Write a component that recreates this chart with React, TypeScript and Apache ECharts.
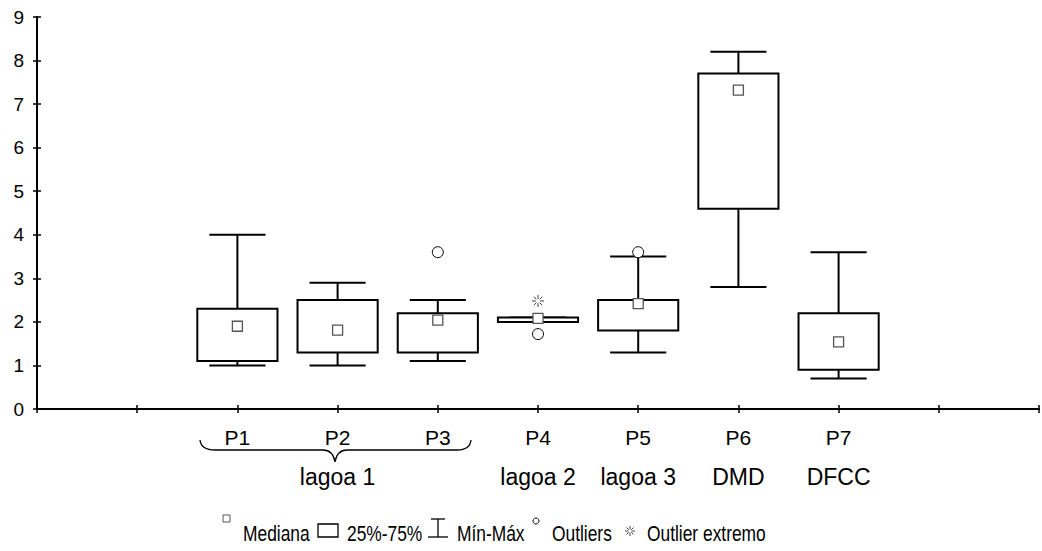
import React, { useEffect, useRef } from "react";
import * as echarts from "echarts";

// ---- data ----
const categories = ["P1", "P2", "P3", "P4", "P5", "P6", "P7"];
const groups = ["", "lagoa 1", "", "lagoa 2", "lagoa 3", "DMD", "DFCC"];
const positions = [2, 3, 4, 5, 6, 7, 8];
const mins = [1.0, 1.0, 1.1, 2.0, 1.3, 2.8, 0.7];
const q1s = [1.1, 1.3, 1.3, 2.0, 1.8, 4.6, 0.9];
const medians = [1.9, 1.81, 2.04, 2.08, 2.42, 7.32, 1.54];
const q3s = [2.3, 2.5, 2.2, 2.1, 2.5, 7.7, 2.2];
const maxs = [4.0, 2.9, 2.5, 2.1, 3.5, 8.2, 3.6];
const outlierCats = ["P3", "P4", "P5"];
const outlierVals = [3.6, 1.72, 3.6];
const extremeCats = ["P4"];
const extremeVals = [2.48];
const yTicks = [0, 1, 2, 3, 4, 5, 6, 7, 8, 9];
const legendLabels = ["Mediana", "25%-75%", "Mín-Máx", "Outliers", "Outlier extremo"];

const FONT = "'Liberation Sans', Arial, sans-serif";

const posOf = (c: string) => positions[categories.indexOf(c)];

const ASTERISK =
  "path://M0,6L4,6M8,6L12,6M6,0L6,4M6,8L6,12M1.8,1.8L4.3,4.3M7.7,7.7L10.2,10.2M10.2,1.8L7.7,4.3M4.3,7.7L1.8,10.2";

let registered = false;
function registerShapes() {
  if (registered) return;
  registered = true;
  echarts.graphic.registerShape(
    "brace",
    echarts.graphic.extendPath(
      "M200,440 Q201,450 215,450 L323,450 Q333,450 335,462 Q337,450 347,450 L457,450 Q470,450 471,440",
      {}
    )
  );
}

export default function App() {
  const ref = useRef<HTMLDivElement>(null);

  useEffect(() => {
    if (!ref.current) return;
    registerShapes();
    const chart = echarts.init(ref.current, null, { renderer: "svg" });

    const boxData = positions.map((p, i) => [p, mins[i], q1s[i], medians[i], q3s[i], maxs[i]]);

    const renderItem = (params: any, api: any) => {
      const x = api.value(0);
      const mn = api.value(1);
      const q1 = api.value(2);
      const q3 = api.value(4);
      const mx = api.value(5);
      const cx = api.coord([x, q1])[0];
      const yMin = api.coord([x, mn])[1];
      const yQ1 = api.coord([x, q1])[1];
      const yQ3 = api.coord([x, q3])[1];
      const yMax = api.coord([x, mx])[1];
      const hb = api.size([0.8, 0])[0] / 2;
      const hc = api.size([0.56, 0])[0] / 2;
      const ls = { stroke: "#000", lineWidth: 2, fill: "none" };
      return {
        type: "group",
        children: [
          { type: "line", shape: { x1: cx, y1: yMax, x2: cx, y2: yQ3 }, style: ls },
          { type: "line", shape: { x1: cx - hc, y1: yMax, x2: cx + hc, y2: yMax }, style: ls },
          { type: "line", shape: { x1: cx, y1: yQ1, x2: cx, y2: yMin }, style: ls },
          { type: "line", shape: { x1: cx - hc, y1: yMin, x2: cx + hc, y2: yMin }, style: ls },
          {
            type: "rect",
            shape: { x: cx - hb, y: yQ3, width: hb * 2, height: yQ1 - yQ3 },
            style: { stroke: "#000", lineWidth: 2, fill: "#fff" },
          },
        ],
      };
    };

    const axisLine = { show: true, lineStyle: { color: "#000", width: 2 } };
    const axisTick = { show: true, inside: true, length: 4, lineStyle: { color: "#000", width: 1.5 } };

    const txt = (x: number, s: string) => ({
      type: "text",
      x,
      y: 533,
      scaleX: 0.79,
      style: { text: s, fill: "#000", font: `22px ${FONT}`, verticalAlign: "middle", align: "left" },
    });

    chart.setOption({
      animation: false,
      backgroundColor: "#fff",
      grid: { left: 37, right: 0, top: 17, bottom: 142 },
      xAxis: [
        {
          type: "value",
          min: 0,
          max: 10,
          interval: 1,
          position: "bottom",
          axisLine,
          axisTick,
          splitLine: { show: false },
          axisLabel: {
            margin: 8,
            formatter: (v: number) => {
              const i = positions.indexOf(v);
              if (i < 0) return "";
              return groups[i] ? `{p|${categories[i]}}\n{g|${groups[i]}}` : `{p|${categories[i]}}`;
            },
            rich: {
              p: { fontSize: 21, lineHeight: 40, fontFamily: FONT, color: "#000" },
              g: { fontSize: 23, lineHeight: 40, fontFamily: FONT, color: "#000" },
            },
          },
        },
        {
          type: "value",
          min: 0,
          max: 10,
          interval: 1,
          position: "top",
          axisLine,
          axisTick,
          splitLine: { show: false },
          axisLabel: { show: false },
        },
      ],
      yAxis: [
        {
          type: "value",
          min: yTicks[0],
          max: yTicks[yTicks.length - 1],
          interval: 1,
          position: "left",
          axisLine,
          axisTick,
          splitLine: { show: false },
          axisLabel: { fontSize: 19, fontFamily: FONT, color: "#000", margin: 13 },
        },
        {
          type: "value",
          min: yTicks[0],
          max: yTicks[yTicks.length - 1],
          interval: 1,
          position: "right",
          axisLine,
          axisTick,
          splitLine: { show: false },
          axisLabel: { show: false },
        },
      ],
      series: [
        {
          name: "25%-75%",
          type: "custom",
          renderItem,
          data: boxData,
          encode: { x: 0, y: [1, 2, 3, 4, 5] },
          z: 2,
        },
        {
          name: "Mediana",
          type: "scatter",
          symbol: "rect",
          symbolSize: 10,
          data: positions.map((p, i) => [p, medians[i]]),
          itemStyle: { color: "#fff", borderColor: "#555", borderWidth: 1.3, opacity: 1 },
          z: 5,
        },
        {
          name: "Outliers",
          type: "scatter",
          symbol: "circle",
          symbolSize: 11,
          data: outlierCats.map((c, i) => [posOf(c), outlierVals[i]]),
          itemStyle: { color: "#fff", borderColor: "#000", borderWidth: 1, opacity: 1 },
          z: 5,
        },
        {
          name: "Outlier extremo",
          type: "scatter",
          symbol: ASTERISK,
          symbolSize: 12,
          data: extremeCats.map((c, i) => [posOf(c), extremeVals[i]]),
          itemStyle: { color: "none", borderColor: "#444", borderWidth: 1, opacity: 1 },
          z: 5,
        },
      ],
      graphic: [
        { type: "brace", style: { stroke: "#000", lineWidth: 1.3, fill: "none" } },
        // legend
        { type: "rect", shape: { x: 223, y: 515, width: 7, height: 7 }, style: { fill: "#fff", stroke: "#555", lineWidth: 1 } },
        txt(243, legendLabels[0]),
        { type: "rect", shape: { x: 318, y: 524, width: 20, height: 13 }, style: { fill: "#fff", stroke: "#000", lineWidth: 1.3 } },
        txt(347, legendLabels[1]),
        { type: "line", shape: { x1: 431, y1: 519, x2: 445, y2: 519 }, style: { stroke: "#000", lineWidth: 1.3 } },
        { type: "line", shape: { x1: 438, y1: 519, x2: 438, y2: 537 }, style: { stroke: "#000", lineWidth: 1.3 } },
        { type: "line", shape: { x1: 428, y1: 537, x2: 448, y2: 537 }, style: { stroke: "#000", lineWidth: 1.3 } },
        txt(457, legendLabels[2]),
        { type: "circle", shape: { cx: 536, cy: 521, r: 3 }, style: { fill: "#fff", stroke: "#000", lineWidth: 1 } },
        txt(552, legendLabels[3]),
        {
          type: "group",
          x: 625,
          y: 526,
          children: [
            { type: "line", shape: { x1: 0, y1: 5, x2: 3.5, y2: 5 }, style: { stroke: "#444", lineWidth: 1 } },
            { type: "line", shape: { x1: 6.5, y1: 5, x2: 10, y2: 5 }, style: { stroke: "#444", lineWidth: 1 } },
            { type: "line", shape: { x1: 5, y1: 0, x2: 5, y2: 3.5 }, style: { stroke: "#444", lineWidth: 1 } },
            { type: "line", shape: { x1: 5, y1: 6.5, x2: 5, y2: 10 }, style: { stroke: "#444", lineWidth: 1 } },
            { type: "line", shape: { x1: 1.5, y1: 1.5, x2: 3.7, y2: 3.7 }, style: { stroke: "#444", lineWidth: 1 } },
            { type: "line", shape: { x1: 6.3, y1: 6.3, x2: 8.5, y2: 8.5 }, style: { stroke: "#444", lineWidth: 1 } },
            { type: "line", shape: { x1: 8.5, y1: 1.5, x2: 6.3, y2: 3.7 }, style: { stroke: "#444", lineWidth: 1 } },
            { type: "line", shape: { x1: 3.7, y1: 6.3, x2: 1.5, y2: 8.5 }, style: { stroke: "#444", lineWidth: 1 } },
          ],
        },
        txt(647, legendLabels[4]),
      ],
    });

    return () => chart.dispose();
  }, []);

  return (
    <div
      ref={ref}
      style={{ position: "absolute", left: 0, top: 0, width: 1042, height: 551, background: "#fff" }}
    />
  );
}
